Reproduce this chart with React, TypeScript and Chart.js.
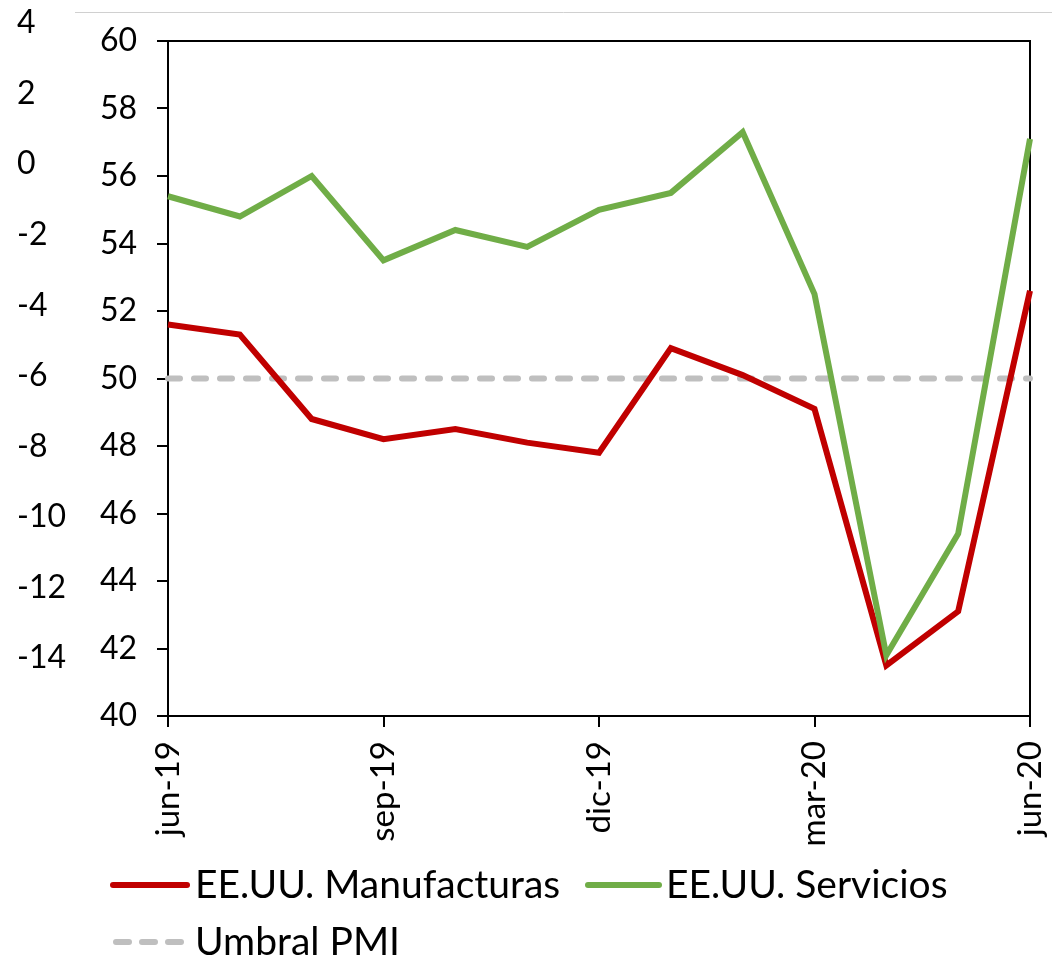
import React, { useEffect, useRef } from "react";
import { Chart, registerables } from "chart.js";

Chart.register(...registerables);

const months = [
  "jun-19", "jul-19", "ago-19", "sep-19", "oct-19", "nov-19", "dic-19",
  "ene-20", "feb-20", "mar-20", "abr-20", "may-20", "jun-20",
];
const manufacturas = [51.6, 51.3, 48.8, 48.2, 48.5, 48.1, 47.8, 50.9, 50.1, 49.1, 41.5, 43.1, 52.6];
const servicios = [55.4, 54.8, 56.0, 53.5, 54.4, 53.9, 55.0, 55.5, 57.3, 52.5, 41.8, 45.4, 57.1];
const umbral = [50, 50, 50, 50, 50, 50, 50, 50, 50, 50, 50, 50, 50];
const outerTicks = [4, 2, 0, -2, -4, -6, -8, -10, -12, -14];

const FONT = "Lato, 'Open Sans', sans-serif";
const RED = "#C00000";
const GREEN = "#70AD47";
const GRAY = "#BFBFBF";

const decorPlugin = {
  id: "decor",
  beforeDraw(chart: any) {
    const ctx = chart.ctx;
    ctx.save();
    ctx.fillStyle = "#fff";
    ctx.fillRect(0, 0, chart.width, chart.height);
    ctx.strokeStyle = "#d0d0d0";
    ctx.lineWidth = 1;
    ctx.beginPath();
    ctx.moveTo(75, 12.5);
    ctx.lineTo(1052, 12.5);
    ctx.stroke();
    ctx.restore();
  },
  beforeDatasetsDraw(chart: any) {
    const { ctx, chartArea } = chart;
    ctx.save();
    ctx.strokeStyle = "#000";
    ctx.lineWidth = 2;
    ctx.beginPath();
    ctx.moveTo(chartArea.left, chartArea.top);
    ctx.lineTo(chartArea.right, chartArea.top);
    ctx.lineTo(chartArea.right, chartArea.bottom);
    ctx.stroke();
    ctx.restore();
  },
  afterDraw(chart: any) {
    const ctx = chart.ctx;
    ctx.save();
    // outer secondary axis labels
    ctx.fillStyle = "#000";
    ctx.font = `32px ${FONT}`;
    ctx.textAlign = "left";
    ctx.textBaseline = "middle";
    outerTicks.forEach((v, i) => {
      ctx.fillText(String(v), 17, 23 + i * 70.56);
    });
    // legend
    const items = [
      { label: "EE.UU. Manufacturas", color: RED, dash: [], x1: 113, x2: 187, tx: 195, y: 885 },
      { label: "EE.UU. Servicios", color: GREEN, dash: [], x1: 588, x2: 659, tx: 666, y: 885 },
      { label: "Umbral PMI", color: GRAY, dash: [13, 13], x1: 116, x2: 185, tx: 195, y: 942 },
    ];
    ctx.font = `39px ${FONT}`;
    items.forEach((it) => {
      ctx.strokeStyle = it.color;
      ctx.lineWidth = 6;
      ctx.lineCap = "round";
      ctx.setLineDash(it.dash);
      ctx.beginPath();
      ctx.moveTo(it.x1, it.y);
      ctx.lineTo(it.x2, it.y);
      ctx.stroke();
      ctx.setLineDash([]);
      ctx.fillStyle = "#000";
      ctx.fillText(it.label, it.tx, it.y);
    });
    ctx.restore();
  },
};

export default function App() {
  const ref = useRef<HTMLCanvasElement>(null);
  useEffect(() => {
    let chart: Chart | null = null;
    let cancelled = false;
    const make = () => {
      if (cancelled || !ref.current) return;
      Chart.defaults.color = "#000";
      chart = new Chart(ref.current, {
        type: "line",
        data: {
          labels: months,
          datasets: [
            {
              label: "EE.UU. Manufacturas",
              data: manufacturas,
              borderColor: RED,
              borderWidth: 6,
              pointRadius: 0,
              tension: 0,
              order: 2,
            },
            {
              label: "EE.UU. Servicios",
              data: servicios,
              borderColor: GREEN,
              borderWidth: 6,
              pointRadius: 0,
              tension: 0,
              order: 1,
            },
            {
              label: "Umbral PMI",
              data: umbral,
              borderColor: GRAY,
              borderWidth: 6,
              borderDash: [12, 14],
              borderCapStyle: "round",
              pointRadius: 0,
              order: 3,
            },
          ],
        },
        options: {
          responsive: false,
          animation: false,
          layout: { padding: { top: 41, right: 28, bottom: 0, left: 0 } },
          plugins: { legend: { display: false }, tooltip: { enabled: false } },
          scales: {
            x: {
              type: "category",
              offset: false,
              border: { color: "#000", width: 2 },
              grid: {
                drawOnChartArea: false,
                tickLength: 11,
                lineWidth: 2,
                color: (c: any) => (c.index % 3 === 0 ? "#000" : "rgba(0,0,0,0)"),
              },
              ticks: {
                autoSkip: false,
                maxRotation: 90,
                minRotation: 90,
                padding: 14,
                color: "#000",
                font: { family: FONT, size: 33 },
                callback: (_v: any, i: number) => (i % 3 === 0 ? months[i] : ""),
              },
              afterFit: (s: any) => {
                s.height = 244;
                s.paddingLeft = 0;
                s.paddingRight = 0;
              },
            },
            y: {
              min: 40,
              max: 60,
              border: { color: "#000", width: 2 },
              grid: { drawOnChartArea: false, tickLength: 11, lineWidth: 2, color: "#000" },
              ticks: {
                stepSize: 2,
                padding: 20,
                color: "#000",
                font: { family: FONT, size: 32 },
              },
              afterFit: (s: any) => {
                s.width = 168;
                s.paddingTop = 0;
                s.paddingBottom = 0;
              },
            },
          },
        },
        plugins: [decorPlugin],
      });
    };
    const fonts = (document as any).fonts;
    if (fonts && fonts.load) {
      Promise.all([fonts.load("32px Lato"), fonts.load("39px Lato")]).then(make, make);
    } else {
      make();
    }
    return () => {
      cancelled = true;
      if (chart) chart.destroy();
    };
  }, []);
  return (
    <canvas
      ref={ref}
      width={1058}
      height={960}
      style={{ position: "absolute", left: 0, top: 0, width: 1058, height: 960 }}
    />
  );
}
